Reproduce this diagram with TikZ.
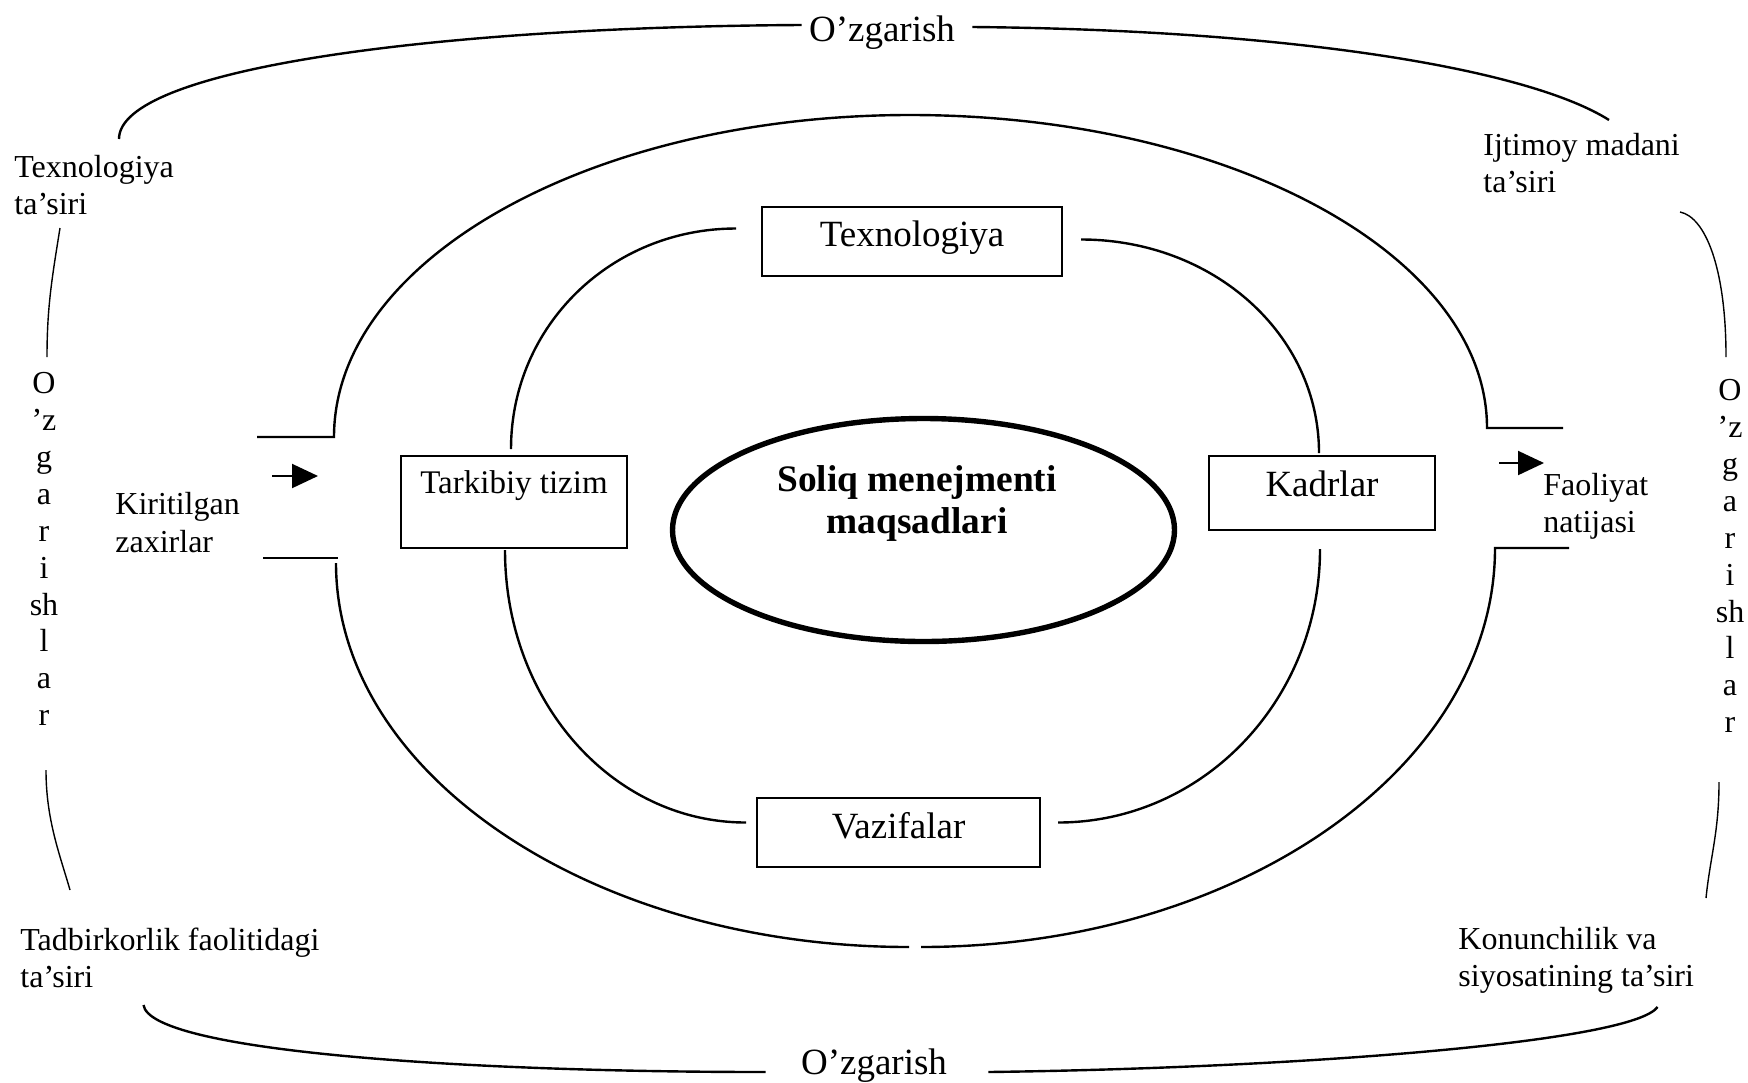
\documentclass[tikz,border=0pt]{standalone}
\usepackage{fontspec}
\setmainfont{Liberation Serif}
\usetikzlibrary{arrows.meta,shapes.geometric,calc}

\begin{document}
\begin{tikzpicture}[x=0.5pt,y=-0.5pt,
  box/.style={draw, line width=1pt, inner xsep=0pt, inner ysep=0pt, anchor=north west, font=\fontsize{18.5}{21}\selectfont},
  sidetext/.style={inner sep=0pt, align=left, anchor=north west, font=\fontsize{16}{18.5}\selectfont},
  vtext/.style={inner sep=0pt, align=center, anchor=north, font=\fontsize{16}{18.45}\selectfont},
  oztext/.style={inner sep=0pt, font=\fontsize{18.5}{21}\selectfont},
  ring/.style={line width=1.2pt},
  frame/.style={line width=1.2pt},
  thinframe/.style={line width=0.7pt},
  flow/.style={line width=1pt, -{Triangle[length=13pt,width=12pt]}}]
\useasboundingbox (0,0) rectangle (1748,1082);

%Shape: Ellipse
\node [ellipse, draw, line width=2.7pt, minimum width=251pt, minimum height=111.5pt, inner sep=0pt] (goal) at (923.5,530) {};
% Text Node
\node [inner sep=0pt, align=center, font=\fontsize{18.7}{21}\selectfont\bfseries] (goalText) at (917,503.5) {Soliq menejmenti\\maqsadlari};

%Shape: Rectangles
\node [box, minimum width=150pt, text height=19.5pt, text depth=15pt] (texBox) at (761,206) {Texnologiya};
\node [box, minimum width=113pt, text height=18.5pt, text depth=27.5pt, font=\fontsize{16.5}{20}\selectfont] (tarBox) at (400,455) {Tarkibiy tizim};
\node [box, minimum width=113pt, text height=20pt, text depth=17pt] (kadBox) at (1208,455) {Kadrlar};
\node [box, minimum width=141.5pt, text height=20pt, text depth=14.5pt] (vazBox) at (756,797) {Vazifalar};

% Text Node
\node [oztext] (ozTop) at (882,33) {O’zgarish};
% Text Node
\node [oztext] (ozBot) at (874,1066) {O’zgarish};
% Text Node
\node [sidetext] (texTas) at (14,155) {Texnologiya\\ta’siri};
% Text Node
\node [sidetext] (ijtTas) at (1483,133) {Ijtimoy madani\\ta’siri};
% Text Node
\node [sidetext] (tadTas) at (20,928) {Tadbirkorlik faolitidagi\\ta’siri};
% Text Node
\node [sidetext] (konTas) at (1458,927) {Konunchilik va\\siyosatining ta’siri};
% Text Node
\node [sidetext, font=\fontsize{16}{19}\selectfont] (kirZax) at (115,492) {Kiritilgan\\zaxirlar};
% Text Node
\node [sidetext] (faolNat) at (1543,473) {Faoliyat\\natijasi};
% Text Node
\node [vtext] (ozLeft) at (44,372) {O\\’z\\g\\a\\r\\i\\sh\\l\\a\\r};
% Text Node
\node [vtext] (ozRight) at (1730,379) {O\\’z\\g\\a\\r\\i\\sh\\l\\a\\r};

% inner ring
\draw [ring] ($(texBox.west)+(-25,-13)$) .. controls +(-125,0) and +(0,-123) .. ($(tarBox.north)+(-3,-6)$);
\draw [ring] ($(texBox.east)+(18,-2)$) .. controls +(132,0) and +(0,-119) .. ($(kadBox.north)+(-3,-2)$);
\draw [ring] ($(tarBox.south)+(-9,1)$) .. controls +(0,151) and +(-134,0) .. ($(vazBox.west)+(-10,-10)$);
\draw [ring] ($(vazBox.east)+(17,-10)$) .. controls +(145,0) and +(0,151) .. ($(kadBox.south)+(-2,18)$);

% outer ring with openings
\coordinate (inStubA) at (257,437);
\coordinate (outTL) at (334,437);
\coordinate (outTop) at (910,115);
\coordinate (outTR) at (1487,428);
\coordinate (outStubA) at (1563,428);
\coordinate (inStubB) at (263,558);
\coordinate (inStubC) at (338,558);
\coordinate (outBL) at (336,563);
\coordinate (outBotL) at (909,947);
\coordinate (outBotR) at (921,947);
\coordinate (outBR) at (1495,548);
\coordinate (outStubB) at (1569,548);
\draw [ring] (inStubA) -- (outTL) .. controls +(0,-178) and +(-318,0) .. (outTop) .. controls +(319,0) and +(0,-173) .. (outTR) -- (outStubA);
\draw [ring] (inStubB) -- (inStubC);
\draw [ring] (outBL) .. controls +(0,212) and +(-316,0) .. (outBotL);
\draw [ring] (outBotR) .. controls +(317,0) and +(0,220) .. (outBR) -- (outStubB);

% arrows
\coordinate (inArrA) at (272,476);
\coordinate (inArrB) at (318,476);
\coordinate (outArrA) at (1499,463);
\coordinate (outArrB) at (1544,463);
\draw [flow] (inArrA) -- (inArrB);
\draw [flow] (outArrA) -- (outArrB);

% frame of changes
\coordinate (fTL) at (119,139);
\coordinate (fTR) at (1609,120);
\coordinate (fBL) at (143.5,1005);
\coordinate (fBR) at (1657.5,1007);
\draw [frame] ($(ozTop.west)+(-7,-8)$) .. controls +(-375,2) and +(0,-69) .. (fTL);
\draw [frame] ($(ozTop.east)+(17,-6)$) .. controls +(327,3) and +(-79,-50) .. (fTR);
\draw [frame] (fBL) .. controls +(6.5,45) and +(-316,0) .. ($(ozBot.west)+(-35,6)$);
\draw [frame] ($(ozBot.east)+(41,6)$) .. controls +(312,-4) and +(-25,35) .. (fBR);

\coordinate (vL1) at (60,228);
\coordinate (vL2) at (47,357);
\coordinate (vL3) at (46,770);
\coordinate (vL4) at (70,890);
\coordinate (vR1) at (1680,212);
\coordinate (vR2) at (1726,357);
\coordinate (vR3) at (1719,782);
\coordinate (vR4) at (1706,898);
\draw [thinframe] (vL1) .. controls +(-8,50) and +(0,-50) .. (vL2);
\draw [thinframe] (vL3) .. controls +(0,50) and +(-10,-35) .. (vL4);
\draw [thinframe] (vR1) .. controls +(25,5) and +(0,-90) .. (vR2);
\draw [thinframe] (vR3) .. controls +(0,50) and +(4,-40) .. (vR4);

\end{tikzpicture}
\end{document}
